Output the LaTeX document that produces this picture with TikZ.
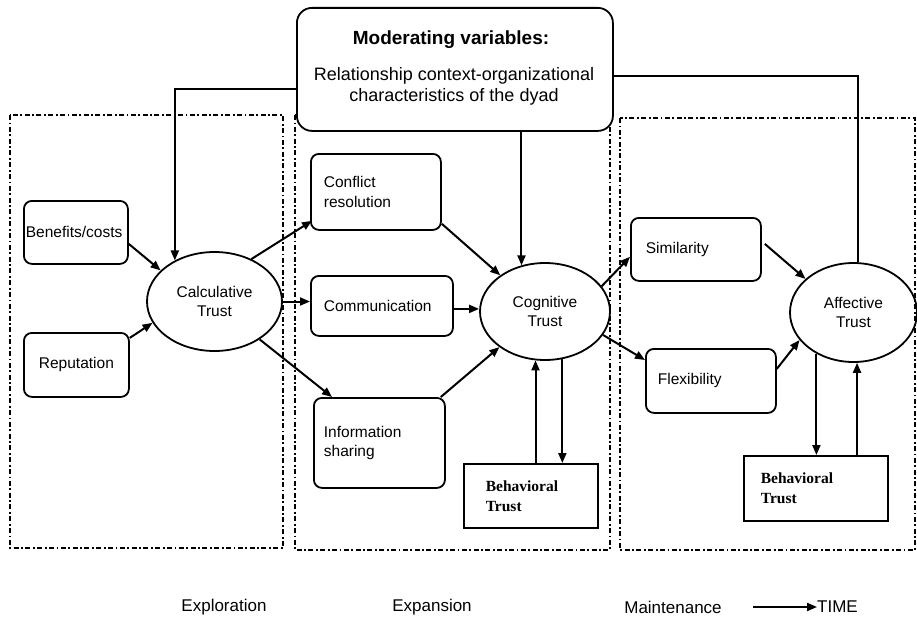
\documentclass[tikz,border=0pt]{standalone}
\usepackage{fontspec}
\setmainfont{Liberation Sans}
\newfontfamily\timesfont{Liberation Serif}
\usetikzlibrary{shapes.geometric,arrows.meta}
\begin{document}
\begin{tikzpicture}[x=1pt,y=-1pt,
  every node/.style={font=\fontsize{15.5}{19.5}\selectfont},
  rbox/.style={draw, line width=1.8pt, rounded corners=8pt, inner ysep=0pt, anchor=north west, align=left},
  sbox/.style={draw, line width=1.6pt, inner ysep=0pt, anchor=north west, align=left,
               font=\timesfont\bfseries\fontsize{15.5}{20}\selectfont},
  ell/.style={draw, ellipse, line width=1.8pt, inner sep=0pt, align=center},
  phase/.style={draw, line width=1.8pt, dash pattern=on 5pt off 2.5pt on 1.8pt off 2.5pt},
  conn/.style={line width=2pt},
  arr/.style={line width=2pt, -{Triangle[length=10pt,width=8pt]}},
  lab/.style={font=\fontsize{17}{20}\selectfont, inner sep=0pt}
]
\useasboundingbox (0,0) rectangle (917,618);

% phase frames
\draw[phase] (10,115) rectangle (283,548);
\draw[phase] (295,115) rectangle (610,550);
\draw[phase] (620,118) rectangle (915,550);

% moderating box
\node[draw, fill=white, line width=1.8pt, rounded corners=15pt, anchor=north west,
      minimum width=316pt, minimum height=123pt, inner sep=0pt] (mod) at (296,7) {};
\node[font=\bfseries\fontsize{19}{22}\selectfont, inner sep=0pt] (modt) at (451,40) {Moderating variables:};
\node[font=\fontsize{18}{21}\selectfont, inner sep=0pt, align=center] (modb) at (454,86)
  {Relationship context-organizational\\characteristics of the dyad};

% exploration
\node[rbox, minimum width=104pt, minimum height=63pt, text width=100pt, inner xsep=2pt] (bc) at (23,200) {Benefits/costs};
\node[rbox, minimum width=105pt, minimum height=64pt, text width=95pt, inner xsep=5pt, align=center] (rep) at (23,332) {Reputation};
\node[ell, minimum width=135pt, minimum height=99pt] (calc) at (214.5,301.5) {Calculative\\Trust};

% expansion
\node[rbox, minimum width=130pt, minimum height=76pt, text width=104pt, inner xsep=13pt] (conf) at (310,153) {Conflict\\resolution};
\node[rbox, minimum width=142pt, minimum height=60pt, text width=116pt, inner xsep=13pt] (comm) at (310,275) {Communication};
\node[rbox, minimum width=131pt, minimum height=90pt, text width=111pt, inner xsep=10pt] (info) at (313,397) {Information\\sharing};
\node[ell, minimum width=130pt, minimum height=97pt] (cog) at (545,311.5) {Cognitive\\Trust};
\node[sbox, minimum width=134pt, minimum height=64pt, text width=90pt, inner xsep=22pt] (beh1) at (463,463) {Behavioral\\Trust};

% maintenance
\node[rbox, minimum width=130pt, minimum height=63pt, text width=100pt, inner xsep=15pt] (sim) at (630,217) {Similarity};
\node[rbox, minimum width=130pt, minimum height=64pt, text width=106pt, inner xsep=12pt] (flex) at (645,348) {Flexibility};
\node[ell, minimum width=127pt, minimum height=99pt] (aff) at (853.5,312.5) {Affective\\Trust};
\node[sbox, minimum width=144pt, minimum height=65pt, text width=110pt, inner xsep=17pt] (beh2) at (743,455) {Behavioral\\Trust};

% moderating connectors
\draw[arr] ([yshift=-19.5pt]mod.west) -| (calc.134);
\draw[arr] (mod.south -| cog.117) -- (cog.117);
\draw[conn] ([yshift=-6.5pt]mod.east) -| (aff.85);

% exploration arrows
\draw[arr] ([yshift=-11.5pt]bc.east) -- (calc.150);
\draw[arr] ([yshift=27pt]rep.east) -- (calc.199);

% calculative -> expansion
\draw[arr] (calc.49) -- ([xshift=2pt,yshift=10pt]conf.south west);
\draw[arr] (calc.east) -- (calc.east -| comm.west);
\draw[arr] (calc.-40) -- ([xshift=19pt]info.north west);

% expansion -> cognitive
\draw[arr] ([yshift=7pt]conf.south east) -- (cog.141);
\draw[arr] ([yshift=-3pt]comm.east) -- ([yshift=-3pt]comm.east -| cog.west);
\draw[arr] ([xshift=-5pt]info.north east) -- (cog.218);

% cognitive <-> behavioral
\draw[arr] (beh1.north -| cog.259) -- (cog.259);
\draw[arr] (cog.290) -- (cog.290 |- beh1.north);

% cognitive -> maintenance
\draw[arr] (cog.24) -- ([yshift=25pt]sim.south west);
\draw[arr] (cog.-22) -- ([yshift=-12pt]flex.north west);
\draw[arr] ([xshift=3pt,yshift=5.5pt]sim.east) -- (aff.145);
\draw[arr] ([yshift=12pt]flex.east) -- (aff.207);

% affective <-> behavioral
\draw[arr] (aff.228) -- (aff.228 |- beh2.north);
\draw[arr] (beh2.north -| aff.274) -- (aff.274);

% time axis
\node[lab] (expl) at (224,607) {Exploration};
\node[lab] (expa) at (432,607) {Expansion};
\node[lab] (main) at (673,607) {Maintenance};
\node[lab, anchor=west] (time) at (817,607) {TIME};
\coordinate (tstart) at (753,607);
\draw[arr] (tstart) -- (time.west);
\end{tikzpicture}
\end{document}
